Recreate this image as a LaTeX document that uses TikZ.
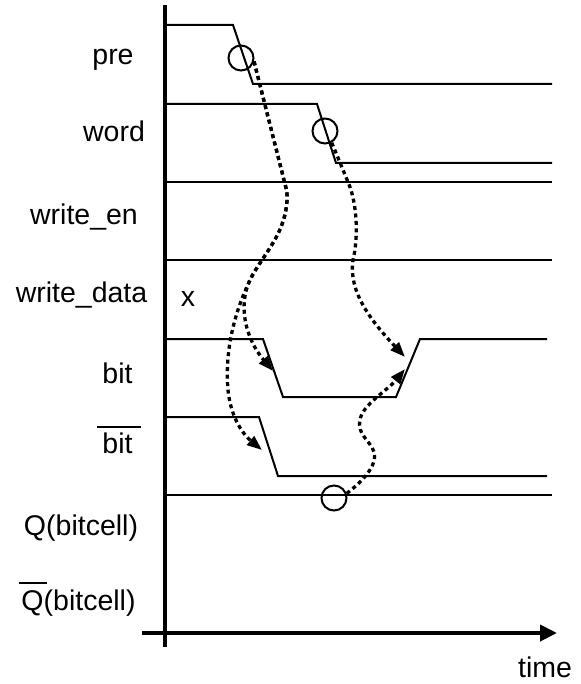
\documentclass[tikz,border=0pt]{standalone}
\usepackage{fontspec}
\setmainfont{Liberation Sans}
\usetikzlibrary{arrows.meta}
\tikzset{
  sig/.style={line width=2pt, line join=miter},
  axis/.style={line width=4pt},
  lbl/.style={anchor=base, inner sep=0pt, font=\fontsize{28.5}{34}\selectfont},
  mark circ/.style={circle, draw, line width=2pt, minimum size=25pt, inner sep=0pt},
  causal/.style={line width=3.3pt, dash pattern=on 4pt off 3.5pt, -{Triangle[length=15pt,width=11pt]}},
  ovl/.style={line width=2pt}
}
\begin{document}
\begin{tikzpicture}[x=1pt, y=-1pt]
\useasboundingbox (0,0) rectangle (580,684);
% axes
\coordinate (ytop) at (165,5);
\coordinate (ybot) at (165,647);
\coordinate (xl) at (142,633);
\coordinate (xr) at (557,633);
\draw[axis] (ytop) -- (ybot);
\draw[axis, -{Triangle[length=17pt,width=16pt]}] (xl) -- (xr);
% labels
\node[lbl] (lpre) at (113,65) {pre};
\node[lbl] (lword) at (114,142) {word};
\node[lbl] (lwen) at (84,225) {write\_en};
\node[lbl] (lwdata) at (81.5,302) {write\_data};
\node[lbl] (lbit) at (117.5,383) {bit};
\node[lbl] (lbitb) at (117.5,453) {bit};
\draw[ovl] (97,427) -- (141,427);
\node[lbl] (lq) at (81,535) {Q(bitcell)};
\node[lbl] (lqb) at (78.5,610) {Q(bitcell)};
\draw[ovl] (19,583) -- (47,583);
\node[lbl] (ltime) at (545,677) {time};
\node[lbl] (lx) at (188,306) {x};
% signals
\draw[sig] (167,25) -- (233,25) -- (253,84) -- (552,84);
\draw[sig] (167,104) -- (317,104) -- (336,163) -- (552,163);
\draw[sig] (167,182) -- (552,182);
\draw[sig] (167,260) -- (552,260);
\draw[sig] (167,339) -- (263,339) -- (283,397) -- (396,397) -- (420,339) -- (547,339);
\draw[sig] (167,417) -- (259,417) -- (278,476) -- (547,476);
\draw[sig] (167,495) -- (552,495);
% circles
\node[mark circ] (cpre) at (241,58) {};
\node[mark circ] (cword) at (325,131) {};
\node[mark circ] (cq) at (334,498) {};
% arrow targets
\coordinate (tbitfall) at (273,371);
\coordinate (tbitbfall) at (262,450);
\coordinate (tbitrise1) at (405,357);
\coordinate (tbitrise2) at (405,369);
% causal arrows
\draw[causal] (cpre.-15) -- (287,192) .. controls (289,232) and (262,255) .. (250,280)
   .. controls (238,305) and (245,338) .. (tbitfall);
\draw[causal] (cpre.-15) -- (287,192) .. controls (289,232) and (262,255) .. (250,280)
   .. controls (238,305) and (224,345) .. (228,390) .. controls (231,420) and (245,436) .. (tbitbfall);
\draw[causal] (cword.-60) -- (348,182) .. controls (358,205) and (358,240) .. (353,260)
   .. controls (348,292) and (372,322) .. (tbitrise1);
\draw[causal] (cq.20) .. controls (362,482) and (378,465) .. (374,452)
   .. controls (370,440) and (357,435) .. (360,420) .. controls (362,405) and (388,390) .. (tbitrise2);
\end{tikzpicture}
\end{document}
